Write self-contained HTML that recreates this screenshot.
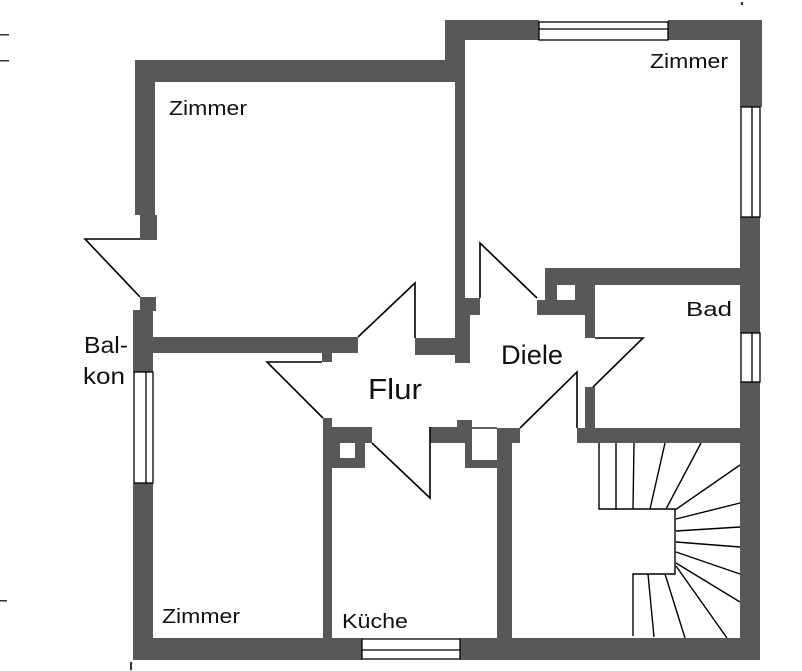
<!DOCTYPE html>
<html><head><meta charset="utf-8"><style>
html,body{margin:0;padding:0;background:#fff;}
svg{display:block;}
.w{fill:#585858;}
.l{stroke:#000;stroke-width:1.6;fill:none;}
.t{font-family:"Liberation Sans",sans-serif;fill:#111;}
</style></head><body>
<svg width="802" height="671" viewBox="0 0 802 671" xmlns="http://www.w3.org/2000/svg">
<rect x="0" y="34" width="9" height="1.5" fill="#333"/>
<rect x="0" y="60" width="9" height="1.5" fill="#333"/>
<rect x="0" y="600" width="7" height="1.5" fill="#333"/>
<rect x="130" y="662" width="2" height="8" fill="#333"/>
<rect x="741" y="2" width="2" height="3" fill="#333"/>

<g class="w">
<rect x="135" y="60" width="330" height="22"/>
<rect x="135" y="60" width="20" height="155"/>
<rect x="140" y="215" width="17" height="25"/>
<rect x="140" y="297" width="16" height="14"/>
<rect x="133" y="310" width="20" height="62"/>
<rect x="133" y="483" width="20" height="177"/>
<rect x="133" y="337" width="225" height="16"/>
<rect x="322" y="337" width="10" height="25"/>
<rect x="445" y="20" width="94" height="20"/>
<rect x="668" y="20" width="94" height="20"/>
<rect x="445" y="20" width="20" height="62"/>
<rect x="455" y="40" width="10" height="258"/>
<rect x="455" y="298" width="25" height="17"/>
<rect x="455" y="315" width="15" height="48"/>
<rect x="415" y="338" width="45" height="17"/>
<rect x="740" y="20" width="22" height="87"/>
<rect x="740" y="217" width="20" height="116"/>
<rect x="740" y="382" width="20" height="278"/>
<rect x="545" y="268" width="215" height="17"/>
<rect x="545" y="268" width="12" height="47"/>
<rect x="575" y="268" width="20" height="47"/>
<rect x="545" y="268" width="50" height="15"/>
<rect x="537" y="300" width="58" height="15"/>
<rect x="585" y="300" width="10" height="38"/>
<rect x="585" y="387" width="10" height="56"/>
<rect x="577" y="428" width="183" height="15"/>
<rect x="323" y="418" width="9" height="220"/>
<rect x="323" y="427" width="49" height="16"/>
<rect x="323" y="443" width="17" height="25"/>
<rect x="355" y="443" width="10" height="25"/>
<rect x="340" y="458" width="25" height="10"/>
<rect x="430" y="427" width="42" height="16"/>
<rect x="457" y="420" width="15" height="23"/>
<rect x="465" y="443" width="7" height="25"/>
<rect x="465" y="460" width="32" height="8"/>
<rect x="497" y="428" width="15" height="232"/>
<rect x="497" y="428" width="23" height="15"/>
<rect x="133" y="638" width="229" height="22"/>
<rect x="460" y="638" width="300" height="22"/>
</g>

<g class="l" style="stroke-width:1.3">
<rect x="539" y="22" width="129" height="18"/>
<line x1="539" y1="29" x2="668" y2="29"/>
<rect x="741" y="107" width="19" height="110"/>
<line x1="752" y1="107" x2="752" y2="217"/>
<rect x="741" y="333" width="19" height="49"/>
<line x1="752" y1="333" x2="752" y2="382"/>
<rect x="134" y="372" width="19" height="111"/>
<line x1="146" y1="372" x2="146" y2="483"/>
<rect x="362" y="639" width="98" height="20"/>
<line x1="362" y1="650" x2="460" y2="650"/>
<line x1="472" y1="428" x2="497" y2="428"/>
</g>

<g class="l">
<polyline points="140,239 85,239 140,297"/>
<polyline points="358,337 415,283 415,338"/>
<polyline points="322,362 267,362 323,418"/>
<polyline points="480,298 480,243 537,298"/>
<polyline points="595,338 643,338 593,387"/>
<polyline points="372,443 430,498 430,427"/>
<polyline points="520,428 577,372 577,428"/>
</g>

<g class="l" style="stroke-width:1.4">
<polyline points="599,443 599,509 675,509 675,574 633,574 633,636"/>
<line x1="616" y1="443" x2="616" y2="509"/>
<line x1="634" y1="443" x2="633" y2="509"/>
<line x1="665" y1="443" x2="650" y2="509"/>
<line x1="701" y1="443" x2="666" y2="509"/>
<line x1="675" y1="510" x2="740" y2="465"/>
<line x1="676" y1="519" x2="740" y2="503"/>
<line x1="676" y1="531" x2="740" y2="527"/>
<line x1="676" y1="542" x2="740" y2="547"/>
<line x1="676" y1="552" x2="740" y2="574"/>
<line x1="676" y1="563" x2="740" y2="602"/>
<line x1="648" y1="574" x2="654" y2="637"/>
<line x1="665" y1="574" x2="685" y2="638"/>
<line x1="676" y1="566" x2="727" y2="638"/>
</g>

<g class="t">
<text x="169" y="115" font-size="20" textLength="78" lengthAdjust="spacingAndGlyphs">Zimmer</text>
<text x="650" y="68" font-size="20" textLength="78" lengthAdjust="spacingAndGlyphs">Zimmer</text>
<text x="686" y="316" font-size="20" textLength="46" lengthAdjust="spacingAndGlyphs">Bad</text>
<text x="162" y="623" font-size="20" textLength="78" lengthAdjust="spacingAndGlyphs">Zimmer</text>
<text x="342" y="628" font-size="20" textLength="66" lengthAdjust="spacingAndGlyphs">Küche</text>
<text x="368" y="399" font-size="29" textLength="54" lengthAdjust="spacingAndGlyphs">Flur</text>
<text x="501" y="364" font-size="27" textLength="62" lengthAdjust="spacingAndGlyphs">Diele</text>
<text x="84" y="353" font-size="23" textLength="44" lengthAdjust="spacingAndGlyphs">Bal-</text>
<text x="83" y="384" font-size="23" textLength="42" lengthAdjust="spacingAndGlyphs">kon</text>
</g>
</svg>
</body></html>
